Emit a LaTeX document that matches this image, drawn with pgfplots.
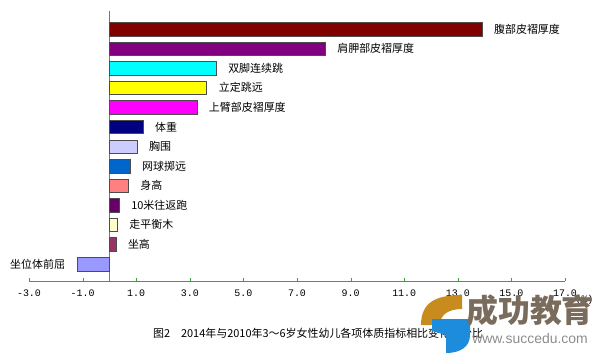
\documentclass[border=0pt]{standalone}
\usepackage{fontspec}
\setmainfont{Noto Sans CJK SC}
\newfontfamily\monof{Liberation Mono}
\newfontfamily\latinsans{Liberation Sans}
\usepackage{pgfplots}
\pgfplotsset{compat=1.18}
\definecolor{axgreen}{RGB}{60,160,60}
\definecolor{c1}{HTML}{800000}
\definecolor{c2}{HTML}{800080}
\definecolor{c3}{HTML}{00FFFF}
\definecolor{c4}{HTML}{FFFF00}
\definecolor{c5}{HTML}{FF00FF}
\definecolor{c6}{HTML}{000080}
\definecolor{c7}{HTML}{CCCCFF}
\definecolor{c8}{HTML}{0066CC}
\definecolor{c9}{HTML}{FF8080}
\definecolor{c10}{HTML}{660066}
\definecolor{c11}{HTML}{FFFFCC}
\definecolor{c12}{HTML}{993366}
\definecolor{c13}{HTML}{9999FF}
\definecolor{wmgold}{RGB}{200,140,30}
\definecolor{wmblue}{RGB}{30,140,220}
\definecolor{wmtext}{RGB}{122,108,92}
\begin{document}
\begin{tikzpicture}[x=1bp,y=1bp]
\useasboundingbox (0,0) rectangle (600,353);
\begin{axis}[
  at={(29bp,72bp)}, anchor=south west,
  scale only axis, width=536bp, height=270bp,
  xmin=-3, xmax=17, ymin=0.132, ymax=13.92,
  axis x line=bottom, axis y line=middle,
  axis line style={axgreen,-}, inner axis line style={-},
  xtick={-3,-1,...,17},
  xticklabels={-3.0,-1.0,1.0,3.0,5.0,7.0,9.0,11.0,13.0,15.0,17.0},
  x tick label style={font=\monof\fontsize{10}{10}\selectfont, yshift=-5bp},
  ytick=\empty,
  xtick align=inside, major tick length=3bp,
  tick style={axgreen},
  xbar, bar width=13.5bp, bar shift=0pt,
  nodes near coords, point meta=explicit symbolic,
  every node near coord/.append style={font=\fontsize{11}{11}\selectfont, inner xsep=12bp, black, anchor=west},
  clip=false,
]
\addplot[fill=c1, draw=black!70] coordinates {(13.9,13) [腹部皮褶厚度]};
\addplot[fill=c2, draw=black!70] coordinates {(8.05,12) [肩胛部皮褶厚度]};
\addplot[fill=c3, draw=black!70] coordinates {(3.98,11) [双脚连续跳]};
\addplot[fill=c4, draw=black!70] coordinates {(3.63,10) [立定跳远]};
\addplot[fill=c5, draw=black!70] coordinates {(3.26,9) [上臂部皮褶厚度]};
\addplot[fill=c6, draw=black!70] coordinates {(1.25,8) [体重]};
\addplot[fill=c7, draw=black!70] coordinates {(1.03,7) [胸围]};
\addplot[fill=c8, draw=black!70] coordinates {(0.77,6) [网球掷远]};
\addplot[fill=c9, draw=black!70] coordinates {(0.70,5) [身高]};
\addplot[fill=c10, draw=black!70] coordinates {(0.36,4) [10米往返跑]};
\addplot[fill=c11, draw=black!70] coordinates {(0.29,3) [走平衡木]};
\addplot[fill=c12, draw=black!70] coordinates {(0.24,2) [坐高]};
\addplot[fill=c13, draw=black!70, every node near coord/.append style={anchor=east}] coordinates {(-1.2,1) [坐位体前屈]};
\end{axis}
\node[font=\monof\fontsize{10}{10}\selectfont, anchor=west] at (572,53) {(\%)};
\node[font=\fontsize{11}{11}\selectfont] at (318,20) {图2\quad 2014年与2010年3～6岁女性幼儿各项体质指标相比变化百分比};
% watermark
\fill[wmgold] (421,28) .. controls (421,50) and (435,58) .. (462,58) -- (462,44) .. controls (448,44) and (440,38) .. (440,28) -- cycle;
\fill[wmblue] (432,34) -- (470,34) -- (470,18) .. controls (470,6) and (460,0) .. (446,0) -- (446,18) -- (432,22) -- cycle;
\node[font=\bfseries\fontsize{32}{32}\selectfont, text=wmtext] at (530,43) {成功教育};
\node[font=\latinsans\fontsize{14}{14}\selectfont, text=black!45] at (530,14) {www.succedu.com};
\end{tikzpicture}
\end{document}
